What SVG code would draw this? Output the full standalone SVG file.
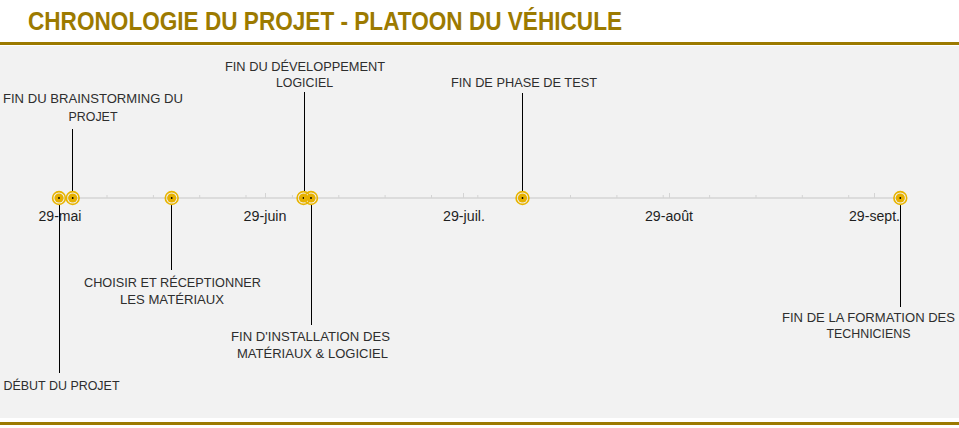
<svg xmlns="http://www.w3.org/2000/svg" width="959" height="428" viewBox="0 0 959 428">
<style>
text{font-family:"Liberation Sans Narrow","Liberation Sans",Arial,sans-serif;}
.title{font-size:26px;font-weight:bold;fill:#9C7A00;}
.lbl{font-size:13px;fill:#2E2E2E;text-anchor:middle;}
.date{font-size:14px;fill:#1F1F1F;text-anchor:middle;}
.conn line{stroke:#000;stroke-width:1;}
.tick{stroke:#D4D4D4;stroke-width:1;}
.ring{fill:none;stroke:#E8B400;stroke-width:1.6;}
.core{fill:#E6B000;}
.dot{fill:#000;}
</style>
<defs>
<g id="mk">
<circle r="6.4" class="ring"/>
<circle r="4.6" class="core"/>
<circle r="0.9" class="dot"/>
</g>
</defs>
<rect x="0" y="0" width="959" height="428" fill="#FFFFFF"/>
<rect x="0" y="46" width="959" height="372" fill="#F2F2F2"/>
<rect x="0" y="42" width="959" height="3" fill="#9C7A00"/>
<rect x="0" y="422" width="959" height="3" fill="#9C7A00"/>
<text class="title" x="28" y="30" textLength="594" lengthAdjust="spacingAndGlyphs">CHRONOLOGIE DU PROJET - PLATOON DU VÉHICULE</text>

<g id="axis">
<line x1="59" y1="198" x2="900" y2="198" stroke="#D4D4D4" stroke-width="1.5"/>
<g class="tick">
<line x1="107" y1="195" x2="107" y2="198"/>
<line x1="153.4" y1="195" x2="153.4" y2="198"/>
<line x1="199.7" y1="195" x2="199.7" y2="198"/>
<line x1="246" y1="195" x2="246" y2="198"/>
<line x1="292.4" y1="195" x2="292.4" y2="198"/>
<line x1="338.8" y1="195" x2="338.8" y2="198"/>
<line x1="385.1" y1="195" x2="385.1" y2="198"/>
<line x1="431.5" y1="195" x2="431.5" y2="198"/>
<line x1="477.8" y1="195" x2="477.8" y2="198"/>
<line x1="524.2" y1="195" x2="524.2" y2="198"/>
<line x1="570.5" y1="195" x2="570.5" y2="198"/>
<line x1="616.9" y1="195" x2="616.9" y2="198"/>
<line x1="663.2" y1="195" x2="663.2" y2="198"/>
<line x1="709.6" y1="195" x2="709.6" y2="198"/>
<line x1="756" y1="195" x2="756" y2="198"/>
<line x1="802.3" y1="195" x2="802.3" y2="198"/>
<line x1="848.7" y1="195" x2="848.7" y2="198"/>
<line x1="265.5" y1="193" x2="265.5" y2="198"/>
<line x1="463.5" y1="193" x2="463.5" y2="198"/>
<line x1="669.5" y1="193" x2="669.5" y2="198"/>
<line x1="874.5" y1="193" x2="874.5" y2="198"/>
</g>
<text class="date" x="60" y="221" textLength="43" lengthAdjust="spacingAndGlyphs">29-mai</text>
<text class="date" x="265" y="221" textLength="43" lengthAdjust="spacingAndGlyphs">29-juin</text>
<text class="date" x="464" y="221" textLength="42" lengthAdjust="spacingAndGlyphs">29-juil.</text>
<text class="date" x="669" y="221" textLength="48" lengthAdjust="spacingAndGlyphs">29-août</text>
<text class="date" x="874.5" y="221" textLength="51" lengthAdjust="spacingAndGlyphs">29-sept.</text>
</g>

<g id="connectors" class="conn">
<line x1="59.5" y1="205" x2="59.5" y2="373"/>
<line x1="72.5" y1="191" x2="72.5" y2="129"/>
<line x1="171.5" y1="205" x2="171.5" y2="270"/>
<line x1="304.5" y1="191" x2="304.5" y2="92"/>
<line x1="311.5" y1="205" x2="311.5" y2="325"/>
<line x1="522.5" y1="191" x2="522.5" y2="93"/>
<line x1="900.5" y1="205" x2="900.5" y2="307"/>
</g>

<g id="n-debut">
<use href="#mk" x="59" y="198"/>
<text class="lbl" x="61.5" y="390" textLength="116" lengthAdjust="spacingAndGlyphs">DÉBUT DU PROJET</text>
</g>
<g id="n-brainstorm">
<use href="#mk" x="72.7" y="198"/>
<text class="lbl" x="93" y="103" textLength="180" lengthAdjust="spacingAndGlyphs">FIN DU BRAINSTORMING DU</text>
<text class="lbl" x="93" y="121" textLength="49" lengthAdjust="spacingAndGlyphs">PROJET</text>
</g>
<g id="n-choisir">
<use href="#mk" x="171.7" y="198"/>
<text class="lbl" x="172.5" y="287" textLength="177" lengthAdjust="spacingAndGlyphs">CHOISIR ET RÉCEPTIONNER</text>
<text class="lbl" x="172" y="304" textLength="104" lengthAdjust="spacingAndGlyphs">LES MATÉRIAUX</text>
</g>
<g id="n-dev">
<use href="#mk" x="303.5" y="198"/>
<text class="lbl" x="305" y="71" textLength="160" lengthAdjust="spacingAndGlyphs">FIN DU DÉVELOPPEMENT</text>
<text class="lbl" x="304.5" y="87" textLength="57" lengthAdjust="spacingAndGlyphs">LOGICIEL</text>
</g>
<g id="n-install">
<use href="#mk" x="311" y="198"/>
<text class="lbl" x="310.5" y="341" textLength="159" lengthAdjust="spacingAndGlyphs">FIN D'INSTALLATION DES</text>
<text class="lbl" x="312.5" y="358" textLength="151" lengthAdjust="spacingAndGlyphs">MATÉRIAUX &amp; LOGICIEL</text>
</g>
<g id="n-test">
<use href="#mk" x="522.5" y="198"/>
<text class="lbl" x="524" y="87" textLength="146" lengthAdjust="spacingAndGlyphs">FIN DE PHASE DE TEST</text>
</g>
<g id="n-formation">
<use href="#mk" x="900.3" y="198"/>
<text class="lbl" x="868.5" y="322" textLength="173" lengthAdjust="spacingAndGlyphs">FIN DE LA FORMATION DES</text>
<text class="lbl" x="868.5" y="338" textLength="84" lengthAdjust="spacingAndGlyphs">TECHNICIENS</text>
</g>
</svg>
